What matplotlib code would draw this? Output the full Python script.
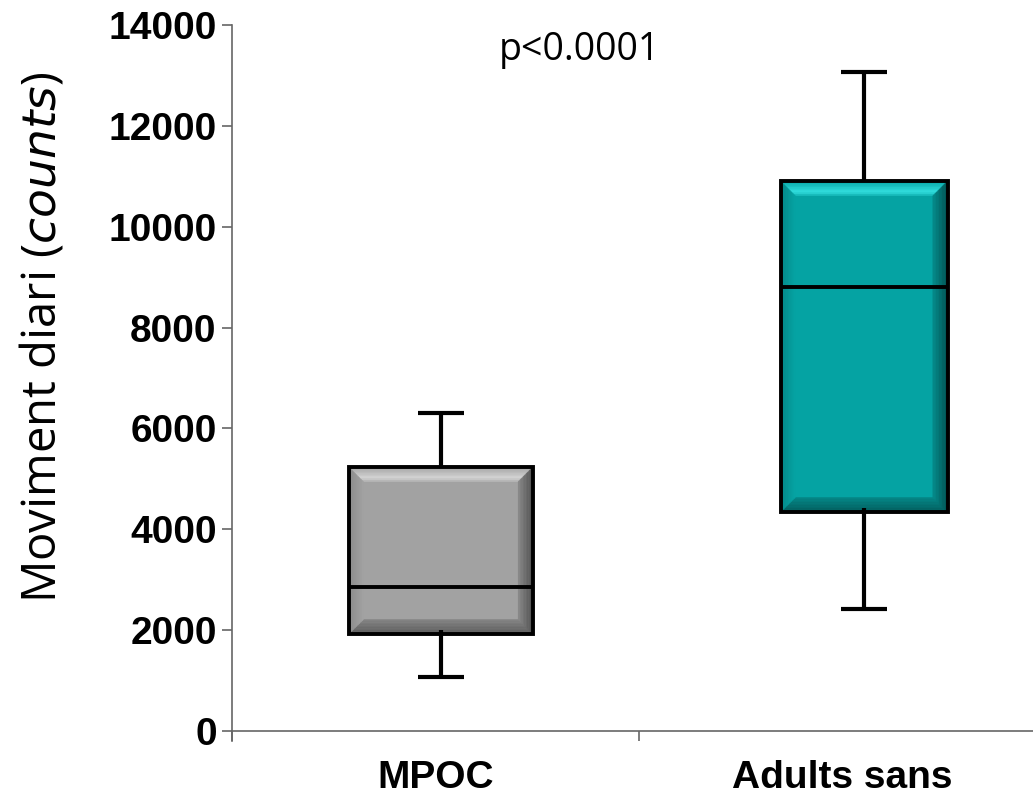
import matplotlib
matplotlib.use("Agg")
import matplotlib.pyplot as plt
from matplotlib.patches import Polygon, Rectangle
import numpy as np

# ---- data ----
categories = ["MPOC", "Adults sans"]
whisker_low = [1070, 2420]
q1 = [1920, 4340]
median = [2855, 8805]
q3 = [5235, 10905]
whisker_high = [6305, 13070]
y_ticks = [0, 2000, 4000, 6000, 8000, 10000, 12000, 14000]
p_text = "p<0.0001"

# ---- style ----
box_pos = [0.513, 1.553]
box_w = [0.452, 0.41]
label_pos = [0.5, 1.5]
cap_w = 0.113
palettes = [
    dict(face="#a2a2a2", top="#d6d6d6", left="#8a8a8a", right="#4e4e4e", bottom="#585858"),
    dict(face="#05a3a3", top="#33e0e0", left="#048888", right="#024f4f", bottom="#035a5a"),
]
bev_x = 0.036
bev_y = 290

fig = plt.figure(figsize=(10.33, 7.98), dpi=100)
ax = fig.add_axes([232 / 1033, 1 - 731 / 798, 1 - 232 / 1033, (731 - 25) / 798])
ax.set_xlim(0, 801 / 407)
ax.set_ylim(0, 14000)


def mix(c1, c2, t):
    a = np.array(matplotlib.colors.to_rgb(c1))
    b = np.array(matplotlib.colors.to_rgb(c2))
    return tuple(a + (b - a) * t)


def band(pts, c):
    ax.add_patch(Polygon(pts, closed=True, facecolor=c, edgecolor=c, lw=0.3, zorder=3))


def bevel_box(x0, x1, y0, y1, pal):
    ax.add_patch(Rectangle((x0, y0), x1 - x0, y1 - y0, facecolor=pal["face"], edgecolor="none", zorder=2))
    n = 10
    for i in range(n):
        t0, t1 = i / n, (i + 1) / n
        tm = (t0 + t1) / 2
        if tm < 0.75:
            ctop = mix(pal["face"], pal["top"], tm / 0.75)
        else:
            ctop = mix(pal["top"], pal["face"], (tm - 0.75) / 0.25 * 0.7)
        band([(x0 + bev_x * t0, y1 - bev_y * t0), (x1 - bev_x * t0, y1 - bev_y * t0),
              (x1 - bev_x * t1, y1 - bev_y * t1), (x0 + bev_x * t1, y1 - bev_y * t1)], ctop)
        cb = mix(pal["bottom"], pal["face"], tm * 0.6)
        band([(x0 + bev_x * t0, y0 + bev_y * t0), (x1 - bev_x * t0, y0 + bev_y * t0),
              (x1 - bev_x * t1, y0 + bev_y * t1), (x0 + bev_x * t1, y0 + bev_y * t1)], cb)
        cl = mix(pal["left"], pal["face"], tm)
        band([(x0 + bev_x * t0, y0 + bev_y * t0), (x0 + bev_x * t0, y1 - bev_y * t0),
              (x0 + bev_x * t1, y1 - bev_y * t1), (x0 + bev_x * t1, y0 + bev_y * t1)], cl)
        cr = mix(pal["right"], pal["face"], tm * 0.7)
        band([(x1 - bev_x * t0, y0 + bev_y * t0), (x1 - bev_x * t0, y1 - bev_y * t0),
              (x1 - bev_x * t1, y1 - bev_y * t1), (x1 - bev_x * t1, y0 + bev_y * t1)], cr)
    ax.add_patch(Rectangle((x0, y0), x1 - x0, y1 - y0, facecolor="none", edgecolor="black", lw=2.8, zorder=5))


for i in range(len(categories)):
    xc = box_pos[i]
    hw = box_w[i] / 2
    ax.plot([xc, xc], [q3[i], whisker_high[i]], color="black", lw=3, zorder=1, solid_capstyle="butt")
    ax.plot([xc, xc], [whisker_low[i], q1[i] + 80], color="black", lw=3, zorder=6, solid_capstyle="butt")
    ax.plot([xc - cap_w / 2, xc + cap_w / 2], [whisker_high[i]] * 2, color="black", lw=3, solid_capstyle="butt", zorder=6)
    ax.plot([xc - cap_w / 2, xc + cap_w / 2], [whisker_low[i]] * 2, color="black", lw=3, solid_capstyle="butt", zorder=6)
    bevel_box(xc - hw, xc + hw, q1[i], q3[i], palettes[i])
    ax.plot([xc - hw, xc + hw], [median[i]] * 2, color="black", lw=2.8, zorder=6, solid_capstyle="butt")

for s in ["top", "right"]:
    ax.spines[s].set_visible(False)
for s in ["left", "bottom"]:
    ax.spines[s].set_color("#666666")
    ax.spines[s].set_linewidth(1.2)
ax.spines["left"].set_bounds(-200, 14000)

ax.set_yticks(y_ticks)
ax.set_yticklabels([str(v) for v in y_ticks], fontfamily="Liberation Sans", fontweight="bold", fontsize=28)
ax.tick_params(axis="y", length=7, width=1.2, color="#666666", pad=4)

ax.set_xticks([0, 1])
ax.set_xticklabels([])
ax.tick_params(axis="x", which="major", length=7.5, width=1.2, color="#666666", direction="out")
ax.set_xticks(label_pos, minor=True)
ax.set_xticklabels(categories, minor=True, fontfamily="Liberation Sans", fontweight="bold", fontsize=28)
ax.tick_params(axis="x", which="minor", length=0, pad=21)

ax.set_ylabel("Moviment diari ($\\mathit{counts}$)", fontfamily="Open Sans", fontsize=34)
ax.yaxis.set_label_coords(-0.207, 0.558)

ax.text(0.853, 13500, p_text, fontfamily="Open Sans", fontsize=27, ha="center", va="center")

fig.savefig("out.png", dpi=100)
